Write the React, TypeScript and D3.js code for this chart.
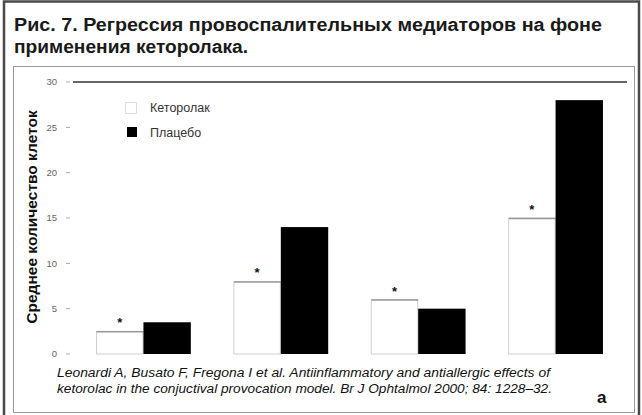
import React from "react";
import * as d3 from "d3";

const groups = ["1", "2", "3", "4"];
const ketorolac = [2.5, 8, 6, 15];
const placebo = [3.5, 14, 5, 28];
const yTicks = [0, 5, 10, 15, 20, 25, 30];
const seriesNames = ["Кеторолак", "Плацебо"];
const titleLines = [
  "Рис. 7. Регрессия провоспалительных медиаторов на фоне",
  "применения кеторолака.",
];
const sourceLines = [
  "Leonardi A, Busato F, Fregona I et al. Antiinflammatory and antiallergic effects of",
  "ketorolac in the conjuctival provocation model. Br J Ophtalmol 2000; 84: 1228–32.",
];

const W = 642;
const H = 415;
const FONT = "Liberation Sans, Arial, sans-serif";

const App = () => {
  const x = d3.scaleBand().domain(groups).range([72, 627]).paddingInner(0.31).paddingOuter(0.175);
  const x1 = d3.scaleBand().domain(["k", "p"]).range([0, x.bandwidth()]);
  const y = d3.scaleLinear().domain([0, 30]).range([354, 82]);

  return (
    <svg width={W} height={H} style={{ display: "block", position: "absolute", left: 0, top: 0 }}>
      <rect x={0} y={0} width={W} height={H} fill="#fff" />
      {/* outer frame, open at the bottom edge */}
      <rect x={4} y={1.5} width={635} height={H + 10} fill="none" stroke="#4a4a4a" strokeWidth={2.5} />
      {titleLines.map((t, i) => (
        <text key={i} x={14} y={31 + i * 22} fontFamily={FONT} fontWeight="bold" fontSize={18}
          fill="#1a1a1a" textLength={i === 0 ? 588 : 234} lengthAdjust="spacingAndGlyphs">
          {t}
        </text>
      ))}
      {/* inner panel */}
      <rect x={13.5} y={66.5} width={621} height={346} fill="#fff" stroke="#999" strokeWidth={1} />

      {/* y axis label */}
      <text transform={`translate(37,${y(15) - 1}) rotate(-90)`} textAnchor="middle"
        fontFamily={FONT} fontWeight="bold" fontSize={15.5} fill="#111">
        Среднее количество клеток
      </text>

      {yTicks.map((t) => (
        <g key={t} transform={`translate(0,${y(t)})`}>
          <text x={57} dy="0.35em" textAnchor="end" fontFamily={FONT} fontSize={9.5} fill="#666">
            {t}
          </text>
          <line x1={66} x2={70} stroke="#aaa" strokeWidth={1} />
        </g>
      ))}

      {/* top reference line */}
      <line x1={73} x2={627} y1={y(30)} y2={y(30)} stroke="#333" strokeWidth={1.6} />

      {groups.map((g, i) => {
        const gx = x(g) as number;
        const bw = x1.bandwidth();
        return (
          <g key={g}>
            <rect x={gx + (x1("k") as number) + 0.5} y={y(ketorolac[i])} width={bw - 1}
              height={y(0) - y(ketorolac[i])} fill="#fff" stroke="#d0d0d0" strokeWidth={1} />
            <line x1={gx + 0.5} x2={gx + bw} y1={y(ketorolac[i]) + 0.5} y2={y(ketorolac[i]) + 0.5}
              stroke="#999" strokeWidth={1.5} />
            <rect x={gx + (x1("p") as number)} y={y(placebo[i])} width={bw}
              height={y(0) - y(placebo[i])} fill="#000" />
            <text x={gx + bw / 2} y={y(ketorolac[i]) - 4} textAnchor="middle"
              fontFamily={FONT} fontWeight="bold" fontSize={13} fill="#111">
              *
            </text>
          </g>
        );
      })}

      {/* legend */}
      <rect x={125.5} y={102.5} width={11} height={11} fill="#fff" stroke="#ddd" />
      <rect x={127} y={127} width={10} height={10} fill="#000" />
      {seriesNames.map((s, i) => (
        <text key={s} x={150} y={108 + i * 25} dy="0.35em" fontFamily={FONT} fontSize={12.5} fill="#333">
          {s}
        </text>
      ))}

      {sourceLines.map((t, i) => (
        <text key={i} x={57} y={377 + i * 16} fontFamily={FONT} fontStyle="italic" fontSize={12.5}
          fill="#111" textLength={i === 0 ? 493 : 495} lengthAdjust="spacingAndGlyphs">
          {t}
        </text>
      ))}
      <text x={597} y={403} fontFamily={FONT} fontWeight="bold" fontSize={17} fill="#111">
        a
      </text>
    </svg>
  );
};

export default App;
